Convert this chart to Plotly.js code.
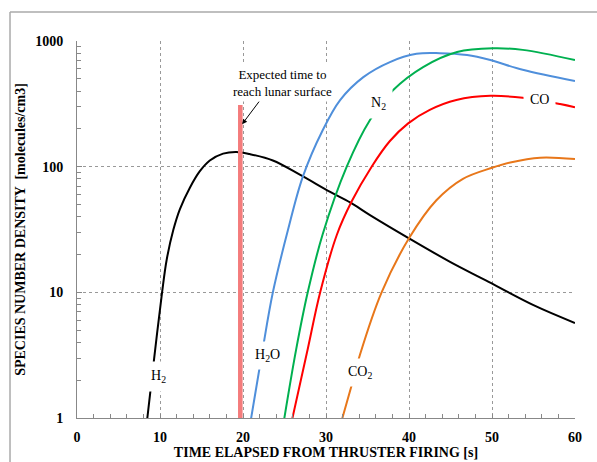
<!DOCTYPE html>
<html>
<head>
<meta charset="utf-8">
<script src="https://cdn.plot.ly/plotly-3.0.1.min.js"></script>
<style>html,body{margin:0;padding:0;background:#fff;}#chart{width:597px;height:462px;}</style>
</head>
<body>
<div id="chart"></div>
<script>
// ---- data ----
const h2X  = [8.45, 9.3, 10.25, 10.8, 11.6, 12.4, 13.6, 14.8, 16.0, 17.6, 19.2, 20.8, 23.6, 26.9, 30.5, 32.9, 35.3, 40, 45, 49.2, 55, 60];
const h2Y  = [0.97, 3.0, 10, 18.1, 31.3, 46, 68, 92, 112, 127, 131, 126, 112, 86, 63, 52, 41.2, 26.9, 17.4, 12.5, 7.9, 5.7];

const h2oX = [20.95, 22.3, 23.6, 25.4, 27.2, 29.6, 31.7, 34.5, 37.7, 40.9, 43.7, 47, 49.8, 53.7, 60];
const h2oY = [0.97, 3.3, 10, 31, 83, 195, 339, 516, 680, 790, 800, 773, 705, 590, 480];

const n2X  = [24.95, 26.4, 27.8, 29.6, 32.5, 35.3, 38.1, 41.7, 45.8, 50.1, 53.7, 60];
const n2Y  = [0.97, 3.5, 10, 29, 100, 235, 407, 620, 817, 875, 850, 705];

const coX  = [25.9, 27.7, 29.3, 31.3, 33.1, 35.5, 37.7, 39.9, 42.5, 45.7, 49.8, 53.7, 58.2, 60];
const coY  = [0.96, 3.3, 10, 28.6, 53, 100, 160, 221, 283, 339, 366, 353, 315, 297];

const co2X = [31.9, 33.1, 34.1, 36.7, 40, 43.3, 46.5, 50, 52.2, 55.8, 60];
const co2Y = [0.96, 1.83, 3.2, 10, 26.9, 54, 80, 98, 108, 118, 115];

const markerX = [19.4, 19.95];   // "expected time to reach lunar surface" band
const markerTop = 310;

const yTickVals = [1, 10, 100, 1000];
const yTickText = ["1", "10", "100", "1000"];
const xTickVals = [0, 10, 20, 30, 40, 50, 60];

const serif = "Liberation Serif";

function curve(x, y, color) {
  return {x: x, y: y, type: 'scatter', mode: 'lines',
          line: {color: color, width: 2, shape: 'spline', smoothing: 1.0},
          hoverinfo: 'skip', showlegend: false};
}

const data = [
  curve(h2X, h2Y, '#000000'),
  curve(h2oX, h2oY, '#4F8FDB'),
  curve(n2X, n2Y, '#00B050'),
  curve(coX, coY, '#FF0000'),
  curve(co2X, co2Y, '#E8771A')
];

function lab(text, x, y, extra) {
  return Object.assign({text: text, x: x, y: y, xref: 'x', yref: 'y', showarrow: false,
    font: {family: serif, size: 14, color: '#000'}, bgcolor: '#ffffff', borderpad: 4}, extra || {});
}

const layout = {
  width: 597, height: 462,
  margin: {l: 77, r: 22, t: 41, b: 44, pad: 0},
  paper_bgcolor: '#ffffff', plot_bgcolor: '#ffffff',
  showlegend: false,
  xaxis: {
    range: [0, 60], tickvals: xTickVals, ticks: 'inside', ticklen: 4, tickcolor: '#888',
    showgrid: true, gridcolor: '#999', griddash: 'dot', gridwidth: 1,
    showline: true, linecolor: '#888', linewidth: 1, zeroline: false,
    minor: {dtick: 2, ticks: 'inside', ticklen: 4, tickcolor: '#888', showgrid: false},
    tickfont: {family: serif, size: 14, color: '#000', weight: 'bold'},
    ticklabelstandoff: 6,
    title: {text: 'TIME ELAPSED FROM THRUSTER FIRING [s]', standoff: 2,
            font: {family: serif, size: 14, color: '#000', weight: 'bold'}}
  },
  yaxis: {
    type: 'log', range: [0, 3], tickvals: yTickVals, ticktext: yTickText,
    ticks: 'inside', ticklen: 5, tickcolor: '#888',
    showgrid: true, gridcolor: '#999', griddash: 'dot', gridwidth: 1,
    showline: true, linecolor: '#888', linewidth: 1, zeroline: false,
    minor: {dtick: 'D1', ticks: 'inside', ticklen: 4, tickcolor: '#888', showgrid: false},
    tickfont: {family: serif, size: 14, color: '#000', weight: 'bold'},
    ticklabelstandoff: 10,
    title: {text: 'SPECIES NUMBER DENSITY  [molecules/cm3]', standoff: 6,
            font: {family: serif, size: 14, color: '#000', weight: 'bold'}}
  },
  shapes: [
    {type: 'rect', xref: 'x', yref: 'y', x0: markerX[0], x1: markerX[1], y0: 1, y1: markerTop,
     fillcolor: '#F47C7C', line: {width: 0}, layer: 'above'},
    {type: 'line', xref: 'paper', yref: 'paper', x0: -0.1345, x1: -0.1345, y0: 1.077, y1: -0.3,
     line: {color: '#aaa', width: 1.5}},
    {type: 'line', xref: 'paper', yref: 'paper', x0: -0.1345, x1: 1.2, y0: 1.077, y1: 1.077,
     line: {color: '#aaa', width: 1.5}}
  ],
  annotations: [
    {text: 'Expected time to<br>reach lunar surface', xref: 'x', yref: 'y', x: 24.8, y: Math.log10(462),
     showarrow: false, font: {family: serif, size: 13, color: '#000'}, bgcolor: '#ffffff', borderpad: 2},
    {text: '', xref: 'x', yref: 'y', x: 19.9, y: Math.log10(218), showarrow: true,
     ax: 18, ay: -24, arrowhead: 2, arrowsize: 1, arrowwidth: 1, arrowcolor: '#000'},
    lab('H<sub>2</sub>', 9.8, Math.log10(2.12), {borderpad: 6}),
    lab('H<sub>2</sub>O', 23.0, Math.log10(3.17), {borderpad: 5}),
    lab('N<sub>2</sub>', 36.3, Math.log10(321), {borderpad: 6}),
    lab('CO', 55.7, Math.log10(345), {borderpad: 6}),
    lab('CO<sub>2</sub>', 34.1, Math.log10(2.32), {borderpad: 5})
  ]
};

Plotly.newPlot('chart', data, layout, {displayModeBar: false, staticPlot: true});
</script>
</body>
</html>
